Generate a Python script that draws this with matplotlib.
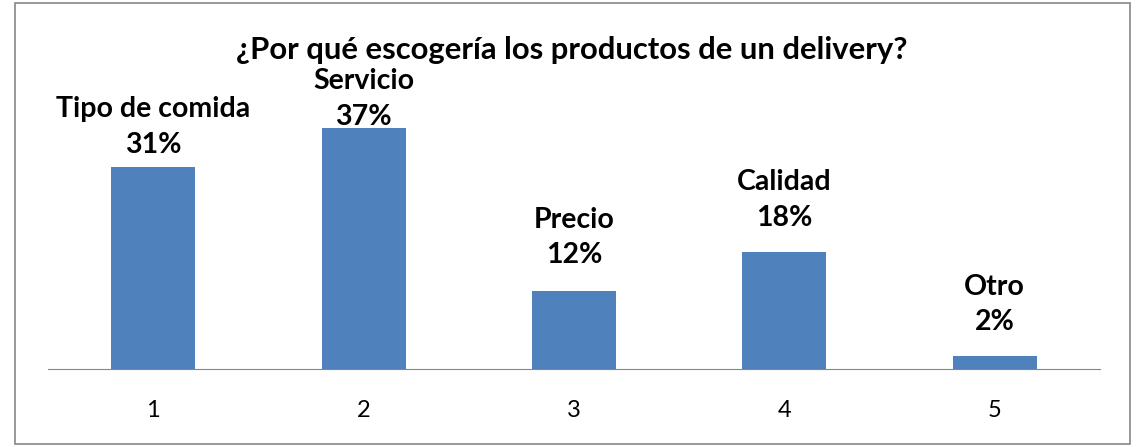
# encuesta delivery: motivos para escoger productos

import matplotlib.pyplot as plt
from matplotlib.patches import Rectangle

categorias = ["1", "2", "3", "4", "5"]
motivos = ["Tipo de comida", "Servicio", "Precio", "Calidad", "Otro"]
porcentajes = [0.31, 0.37, 0.12, 0.18, 0.02]

# desplazamiento vertical de cada etiqueta (puntos), como en el original
desplaz = [6.5, -1.5, 16, 15, 15]

plt.rcParams['font.family'] = ['Lato', 'DejaVu Sans']

fig = plt.figure(figsize=(11.43, 4.47), dpi=100)
ax = fig.add_axes([48 / 1143, 78 / 447, 1052 / 1143, 261 / 447])

x = range(len(categorias))
ax.bar(x, porcentajes, width=0.4, color="#4F81BD")
ax.set_xlim(-0.5, len(categorias) - 0.5)
ax.set_ylim(0, 0.4)

for i, (m, p) in enumerate(zip(motivos, porcentajes)):
    ax.annotate(f"{m}\n{p:.0%}", (i, p), xytext=(0, desplaz[i]), textcoords="offset points",
                ha="center", va="bottom", fontsize=20.5, fontweight="bold",
                linespacing=1.45, clip_on=False)

ax.set_xticks(list(x))
ax.set_xticklabels(categorias, fontsize=17)
ax.tick_params(axis="x", length=0, pad=22)
ax.set_yticks([])
for s in ["top", "right", "left"]:
    ax.spines[s].set_visible(False)
ax.spines["bottom"].set_color("#868686")

fig.text(0.5, 1 - 50 / 447, "¿Por qué escogería los productos de un delivery?",
         ha="center", va="center", fontsize=22.3, fontweight="bold")

fig.patches.append(Rectangle((15 / 1143, 3 / 447), 1115 / 1143, 441 / 447,
                             transform=fig.transFigure, fill=False,
                             edgecolor="#868686", linewidth=1.2))

fig.savefig("out.png", dpi=100)
